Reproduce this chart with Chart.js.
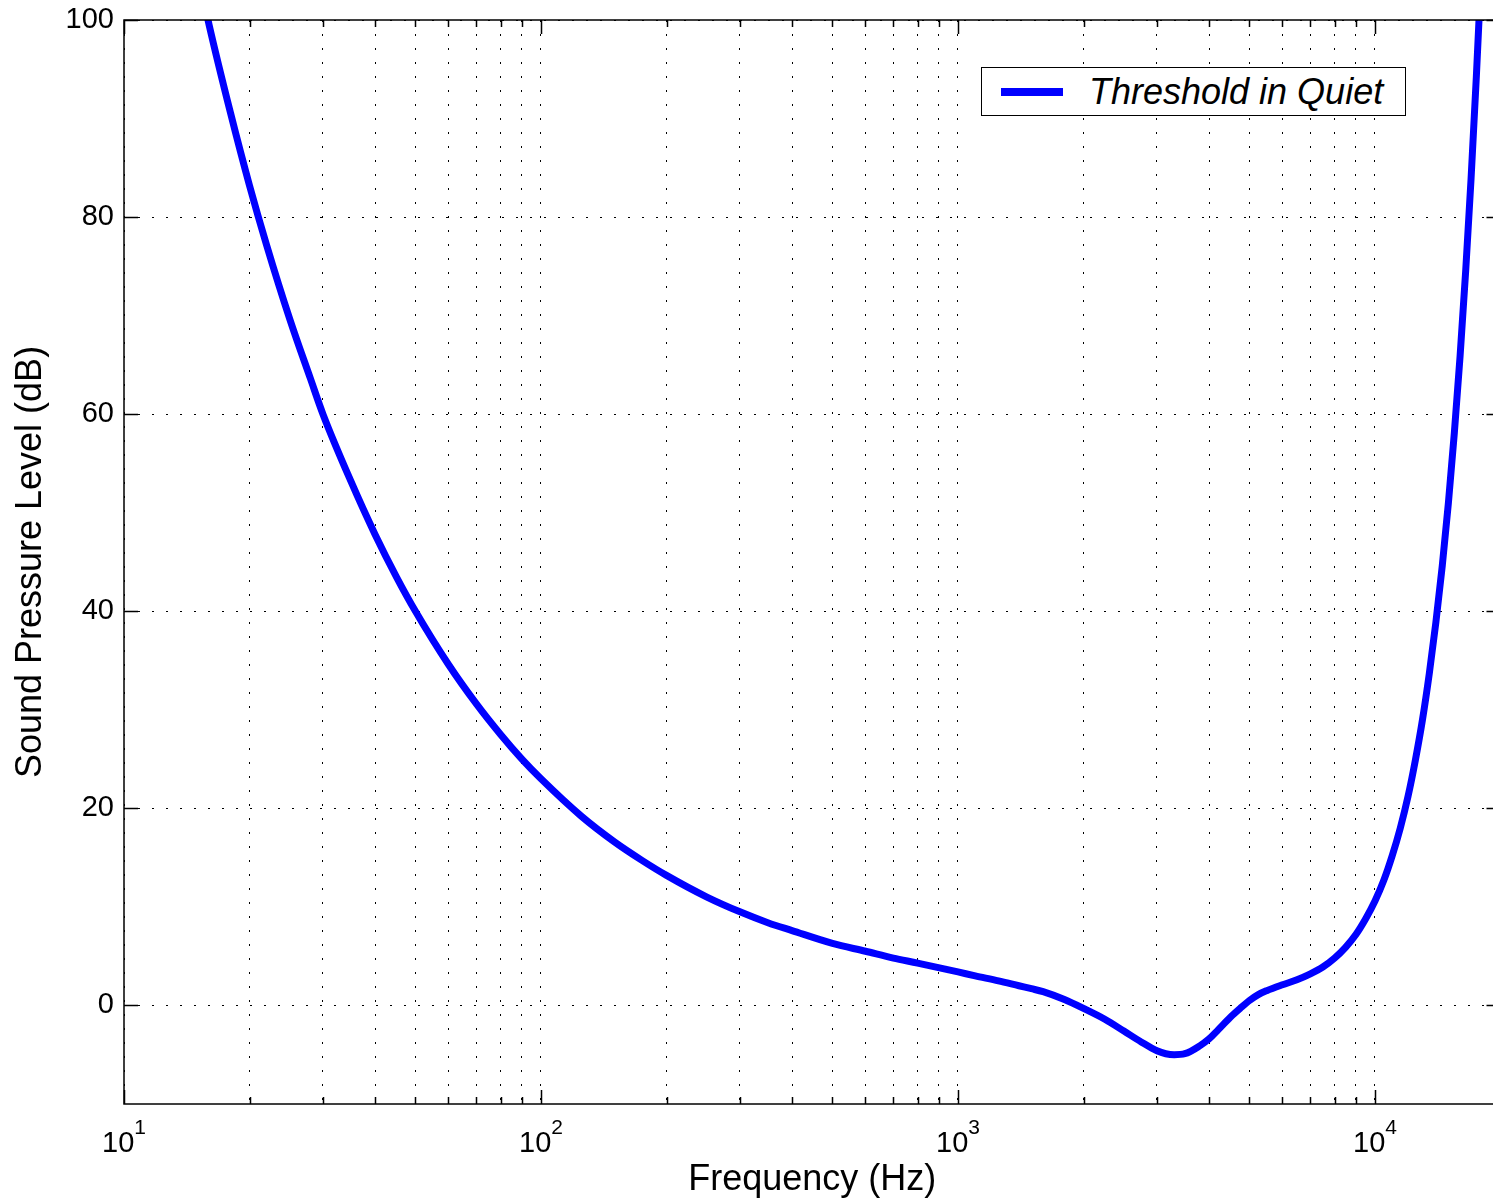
<!DOCTYPE html>
<html>
<head>
<meta charset="utf-8">
<title>Threshold in Quiet</title>
<script src="https://cdn.jsdelivr.net/npm/chart.js@4.4.1/dist/chart.umd.min.js"></script>
<style>
  html, body { margin: 0; padding: 0; background: #fff; overflow: hidden; }
  #wrap { position: relative; width: 1510px; height: 1202px; }
  #legend {
    position: absolute; left: 981px; top: 67px; width: 423px; height: 47px;
    border: 1.5px solid #000; background: #fff;
    font: italic 36px 'Liberation Sans', Arial, Helvetica, sans-serif; color: #000;
  }
  #legend .swatch { position: absolute; left: 19px; top: 20px; width: 62px; height: 8px; background: #0000ff; }
  #legend .label { position: absolute; left: 107px; top: 4px; line-height: 40px; white-space: nowrap; }
</style>
</head>
<body>
<div id="wrap">
  <canvas id="chart" width="1510" height="1202"></canvas>
  <div id="legend"><div class="swatch"></div><div class="label"></div></div>
</div>
<script>
/* ─── Data ─── */
const FREQ_HZ = [
  15, 16, 18, 20, 22, 25, 28, 30, 35, 40, 45, 50, 60, 70, 80, 90,
  100, 125, 150, 175, 200, 250, 300, 350, 400, 500, 600, 700, 800,
  1000, 1100, 1250, 1400, 1500, 1600, 1800, 2000, 2250, 2500, 2750,
  3000, 3150, 3300, 3500, 3800, 4000, 4200, 4500, 4750, 5000, 5250, 5500,
  6000, 6500, 7000, 7500, 8000, 8500, 9000, 9500, 10000, 10500, 11000,
  11500, 12000, 12500, 13000, 13500, 14000, 14500, 15000, 15500, 16000,
  16500, 17000, 17500, 18000,
];
const THRESHOLD_DB = [
  105.0, 99.5, 90.6, 83.2, 77.1, 69.6, 63.6, 60.0, 53.2, 47.8, 43.5, 40.0, 34.6, 30.6, 27.5, 25.0,
  23.0, 19.2, 16.6, 14.7, 13.2, 11.0, 9.5, 8.4, 7.6, 6.3, 5.5, 4.8, 4.3,
  3.4, 3.0, 2.5, 2.0, 1.7, 1.4, 0.6, -0.3, -1.4, -2.6, -3.7,
  -4.6, -4.9, -5.0, -4.9, -4.1, -3.4, -2.5, -1.2, -0.3, 0.5, 1.1, 1.5,
  2.1, 2.6, 3.2, 3.9, 4.8, 5.9, 7.2, 8.8, 10.6, 12.7, 15.2,
  18.0, 21.2, 24.9, 29.0, 33.7, 38.9, 44.6, 51.0, 58.1, 65.9,
  74.5, 83.9, 94.2, 105.3,
];

const X_MIN = 10, X_MAX = 20000;
const Y_MIN = -10, Y_MAX = 100;
const X_MAJOR = [10, 100, 1000, 10000];
const X_MINOR = [20, 30, 40, 50, 60, 70, 80, 90,
                 200, 300, 400, 500, 600, 700, 800, 900,
                 2000, 3000, 4000, 5000, 6000, 7000, 8000, 9000];
const Y_TICKS = [0, 20, 40, 60, 80, 100];

const FONT = "'Liberation Sans', Arial, Helvetica, sans-serif";
const DOT_GRID = { color: '#000', lineWidth: 1, drawTicks: false };

/* ─── MATLAB-style frame: box, inward ticks, 10^n labels ─── */
const axesFrame = {
  id: 'axesFrame',
  afterDraw(chart) {
    const { ctx, chartArea: a, scales: { x, y } } = chart;
    ctx.save();
    ctx.strokeStyle = '#000';
    ctx.lineWidth = 1.5;
    ctx.strokeRect(a.left, a.top, a.right - a.left, a.bottom - a.top);

    ctx.beginPath();
    const xTick = (v, len) => {
      const px = Math.round(x.getPixelForValue(v)) + 0.5;
      ctx.moveTo(px, a.bottom); ctx.lineTo(px, a.bottom - len);
      ctx.moveTo(px, a.top);    ctx.lineTo(px, a.top + len);
    };
    X_MAJOR.forEach(v => xTick(v, 14));
    X_MINOR.forEach(v => xTick(v, 7));
    Y_TICKS.forEach(v => {
      const py = Math.round(y.getPixelForValue(v)) + 0.5;
      ctx.moveTo(a.left, py);  ctx.lineTo(a.left + 14, py);
      ctx.moveTo(a.right, py); ctx.lineTo(a.right - 14, py);
    });
    ctx.stroke();

    ctx.fillStyle = '#000';
    ctx.textAlign = 'left';
    ctx.textBaseline = 'alphabetic';
    X_MAJOR.forEach(v => {
      const exp = String(Math.round(Math.log10(v)));
      const px = x.getPixelForValue(v);
      ctx.font = `29px ${FONT}`;
      const wBase = ctx.measureText('10').width;
      ctx.font = `21px ${FONT}`;
      const wExp = ctx.measureText(exp).width;
      const left = px - (wBase + wExp) / 2;
      ctx.font = `29px ${FONT}`;
      ctx.fillText('10', left, a.bottom + 48);
      ctx.font = `21px ${FONT}`;
      ctx.fillText(exp, left + wBase, a.bottom + 30);
    });
    ctx.restore();
  },
};

const chart = new Chart(document.getElementById('chart'), {
  type: 'line',
  data: {
    datasets: [{
      label: 'Threshold in Quiet',
      data: FREQ_HZ.map((f, i) => ({ x: f, y: THRESHOLD_DB[i] })),
      borderColor: '#0000ff',
      borderWidth: 7,
      pointRadius: 0,
      cubicInterpolationMode: 'monotone',
      clip: 0,
      fill: false,
    }],
  },
  options: {
    responsive: false,
    animation: false,
    devicePixelRatio: 1,
    layout: { padding: { top: 20, right: 9.5, left: 0, bottom: 0 } },
    plugins: { legend: { display: false }, tooltip: { enabled: false } },
    scales: {
      x: {
        type: 'logarithmic',
        min: X_MIN,
        max: X_MAX,
        afterBuildTicks: s => { s.ticks = [...X_MAJOR, ...X_MINOR].sort((p, q) => p - q).map(v => ({ value: v })); },
        afterFit: s => { s.height = 98; s.paddingLeft = 0; s.paddingRight = 0; },
        ticks: { display: false },
        grid: DOT_GRID,
        border: { display: false, dash: [2, 12] },
        title: {
          display: true, text: 'Frequency (Hz)', color: '#000',
          font: { family: FONT, size: 36 }, padding: { top: 0, bottom: 0 },
        },
      },
      y: {
        type: 'linear',
        min: Y_MIN,
        max: Y_MAX,
        afterBuildTicks: s => { s.ticks = Y_TICKS.map(v => ({ value: v })); },
        afterFit: s => { s.width = 124; s.paddingTop = 0; s.paddingBottom = 0; },
        ticks: { color: '#000', font: { family: FONT, size: 29 }, padding: 10 },
        grid: DOT_GRID,
        border: { display: false, dash: [2, 12] },
        title: {
          display: true, text: 'Sound Pressure Level (dB)', color: '#000',
          font: { family: FONT, size: 36 }, padding: { top: 9, bottom: 0 },
        },
      },
    },
  },
  plugins: [axesFrame],
});

/* ─── Legend box from the dataset ─── */
document.querySelector('#legend .label').textContent = chart.data.datasets[0].label;
</script>
</body>
</html>
